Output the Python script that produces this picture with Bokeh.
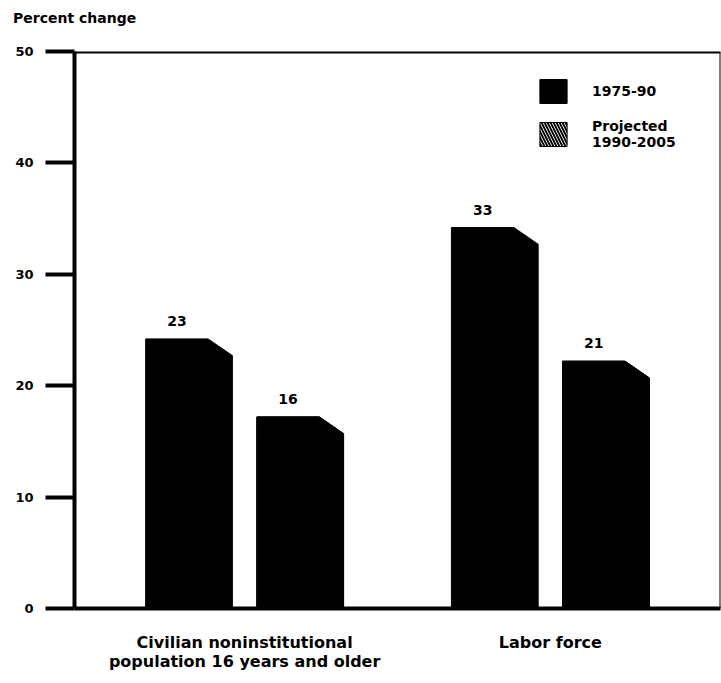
from bokeh.plotting import figure
from bokeh.layouts import column
from bokeh.models import Range1d, FixedTicker, Span, Legend, LegendItem, ColumnDataSource, Div
from bokeh.core.properties import value
from bokeh.embed import file_html
from bokeh.resources import INLINE

# Percent change, civilian population vs. labor force
y_caption = "Percent change"
categories = ["Civilian noninstitutional\npopulation 16 years and older", "Labor force"]
series_names = ["1975-90", "Projected\n1990-2005"]
change_1975_90 = [23, 33]
change_1990_2005 = [16, 21]
y_ticks = [0, 10, 20, 30, 40, 50]

FONT = "DejaVu Sans"
CAPTION_H = 36

# horizontal layout, in bar-slot units; group centres sit at 0 and GROUP_STEP
GROUP_STEP = 2.75
BAR_W = 0.78
FLAT = 0.72        # share of the bar top that stays flat before the bevel
BEVEL_UP = 1.2     # raised front edge above the value
BEVEL_DOWN = 0.3   # back corner below the value


def bar_source(values, series_idx):
    xs, ys, lx, ly, txt = [], [], [], [], []
    for g, v in enumerate(values):
        c = g * GROUP_STEP + (series_idx - 0.5)
        left, right = c - BAR_W / 2, c + BAR_W / 2
        knee = left + FLAT * BAR_W
        xs.append([left, left, knee, right, right])
        ys.append([0, v + BEVEL_UP, v + BEVEL_UP, v - BEVEL_DOWN, 0])
        lx.append((left + knee) / 2)
        ly.append(v + BEVEL_UP)
        txt.append(str(v))
    return ColumnDataSource(dict(xs=xs, ys=ys, lx=lx, ly=ly, txt=txt))


p = figure(
    width=721, height=683 - CAPTION_H,
    x_range=Range1d(-1.53, 4.28), y_range=Range1d(0, 50),
    output_backend="svg", toolbar_location=None,
    min_border_left=74, min_border_right=1, min_border_top=51 - CAPTION_H, min_border_bottom=75,
)
p.grid.visible = False
p.outline_line_color = None
p.background_fill_color = "white"

src_a = bar_source(change_1975_90, 0)
src_b = bar_source(change_1990_2005, 1)

r_a = p.patches("xs", "ys", source=src_a, fill_color="black", line_color="black", line_width=1)

# hatched copy of the projected bars sits underneath the solid ones and supplies the legend key
r_b_key = p.patches("xs", "ys", source=src_b, level="underlay",
                    fill_color="black", line_color="black",
                    hatch_pattern="\\", hatch_color="white", hatch_weight=0.9, hatch_scale=6)
r_b = p.patches("xs", "ys", source=src_b, fill_color="black", line_color="black", line_width=1)

for src in (src_a, src_b):
    p.text("lx", "ly", text="txt", source=src, text_font=value(FONT), text_font_style="bold",
           text_font_size="14px", text_align="center", text_baseline="bottom",
           y_offset=-13, text_color="black")

# axes
p.yaxis.ticker = FixedTicker(ticks=y_ticks)
p.yaxis.axis_line_width = 4
p.yaxis.major_tick_line_width = 4
p.yaxis.major_tick_out = 29
p.yaxis.major_tick_in = 0
p.yaxis.minor_tick_line_color = None
p.yaxis.major_label_standoff = 12
p.yaxis.major_label_text_font = FONT
p.yaxis.major_label_text_font_style = "bold"
p.yaxis.major_label_text_font_size = "13px"
p.yaxis.major_label_text_color = "black"

p.xaxis.ticker = FixedTicker(ticks=[0, GROUP_STEP])
p.xaxis.major_label_overrides = {0: categories[0], GROUP_STEP: categories[1]}
p.xaxis.axis_line_width = 4
p.xaxis.major_tick_line_color = None
p.xaxis.minor_tick_line_color = None
p.xaxis.major_label_standoff = 18
p.xaxis.major_label_text_font = FONT
p.xaxis.major_label_text_font_style = "bold"
p.xaxis.major_label_text_font_size = "16px"
p.xaxis.major_label_text_color = "black"
p.xaxis.major_label_text_line_height = 1.0

p.add_layout(Span(location=50, dimension="width", line_color="black", line_width=4))
p.add_layout(Span(location=4.28, dimension="height", line_color="black", line_width=2))

legend = Legend(
    items=[LegendItem(label=series_names[0], renderers=[r_a]),
           LegendItem(label=series_names[1], renderers=[r_b_key])],
    location=(462, 458),
    glyph_width=34, glyph_height=30, label_standoff=22, spacing=12,
    padding=0, margin=0, border_line_color=None, background_fill_alpha=0,
    label_text_font=FONT, label_text_font_style="bold", label_text_font_size="14px",
    label_text_color="black", label_text_line_height=0.95,
)
p.add_layout(legend)

# caption for the value axis, set above the plot's top rule
caption = Div(
    text=y_caption, width=721, height=CAPTION_H, margin=(0, 0, 0, 0),
    styles={"font-family": FONT, "font-weight": "bold", "font-size": "14px",
            "color": "black", "padding-left": "13px", "padding-top": "9px",
            "line-height": "18px"},
)

layout = column(caption, p, spacing=0, margin=(0, 0, 0, 0))
open("out.html", "w").write(file_html(layout, INLINE))
